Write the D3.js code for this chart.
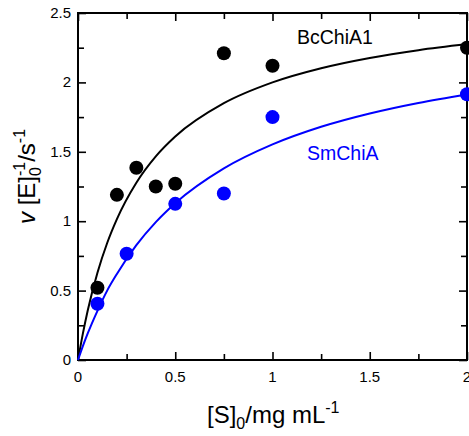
<!DOCTYPE html>
<html>
<head>
<meta charset="utf-8">
<script src="https://cdn.jsdelivr.net/npm/d3@7"></script>
<style>
body { margin: 0; background: #fff; }
svg { display: block; font-family: "Liberation Sans", Arial, sans-serif; }
</style>
</head>
<body>
<svg id="chart" width="469" height="436"></svg>
<script>
// measured points
var bcS = [0.1, 0.2, 0.3, 0.4, 0.5, 0.75, 1.0, 2.0];
var bcV = [0.52, 1.19, 1.385, 1.25, 1.27, 2.21, 2.12, 2.25];
var smS = [0.1, 0.25, 0.5, 0.75, 1.0, 2.0];
var smV = [0.405, 0.765, 1.125, 1.2, 1.75, 1.915];

// fitted curves
var fitS = [0, 0.025, 0.05, 0.1, 0.15, 0.2, 0.3, 0.4, 0.5, 0.75, 1.0, 1.25, 1.5, 1.75, 2.0];
var bcFit = [0, 0.19, 0.357, 0.629, 0.843, 1.015, 1.277, 1.467, 1.61, 1.85, 2.0, 2.102, 2.176, 2.232, 2.276];
var smFit = [0, 0.1, 0.191, 0.354, 0.5, 0.62, 0.827, 0.993, 1.129, 1.38, 1.553, 1.68, 1.776, 1.852, 1.913];

var xTicks = [0, 0.5, 1, 1.5, 2];
var xMinor = [0.25, 0.75, 1.25, 1.75];
var yTicks = [0, 0.5, 1, 1.5, 2, 2.5];
var yMinor = [0.25, 0.75, 1.25, 1.75, 2.25];

var svg = d3.select("#chart");
var L = 78, R = 467, T = 13, B = 360;

var x = d3.scaleLinear().domain([0, 2]).range([L, R]);
var y = d3.scaleLinear().domain([0, 2.5]).range([B, T]);

var tickFmt = function(d){ return d3.format("")(d); };

// axes, ticks inward on all four sides
var g = svg.append("g");
g.append("g").attr("transform", "translate(0," + B + ")")
	.call(d3.axisTop(x).tickValues(xTicks).tickSize(8).tickFormat(""));
g.append("g").attr("transform", "translate(0," + B + ")")
	.call(d3.axisTop(x).tickValues(xMinor).tickSize(6).tickFormat(""));
g.append("g").attr("transform", "translate(0," + T + ")")
	.call(d3.axisBottom(x).tickValues(xTicks).tickSize(8).tickFormat(""));
g.append("g").attr("transform", "translate(0," + T + ")")
	.call(d3.axisBottom(x).tickValues(xMinor).tickSize(6).tickFormat(""));
g.append("g").attr("transform", "translate(" + L + ",0)")
	.call(d3.axisRight(y).tickValues(yTicks).tickSize(8).tickFormat(""));
g.append("g").attr("transform", "translate(" + L + ",0)")
	.call(d3.axisRight(y).tickValues(yMinor).tickSize(6).tickFormat(""));
g.append("g").attr("transform", "translate(" + R + ",0)")
	.call(d3.axisLeft(y).tickValues(yTicks).tickSize(8).tickFormat(""));
g.append("g").attr("transform", "translate(" + R + ",0)")
	.call(d3.axisLeft(y).tickValues(yMinor).tickSize(6).tickFormat(""));
g.selectAll(".domain").remove();
g.selectAll("line").attr("stroke", "#000").attr("stroke-width", 1.6);

svg.append("rect").attr("x", L).attr("y", T).attr("width", R - L).attr("height", B - T)
	.attr("fill", "none").attr("stroke", "#000").attr("stroke-width", 2);

// tick labels
svg.selectAll(".xl").data(xTicks).enter().append("text")
	.attr("x", function(d){ return x(d); }).attr("y", B + 22)
	.attr("text-anchor", "middle").attr("font-size", 15).text(tickFmt);
svg.selectAll(".yl").data(yTicks).enter().append("text")
	.attr("x", L - 7).attr("y", function(d){ return y(d) + 5; })
	.attr("text-anchor", "end").attr("font-size", 15).text(tickFmt);

// curves
var line = d3.line().curve(d3.curveMonotoneX)
	.x(function(d){ return x(d[0]); }).y(function(d){ return y(d[1]); });
svg.append("path").datum(d3.zip(fitS, bcFit)).attr("d", line)
	.attr("fill", "none").attr("stroke", "#000").attr("stroke-width", 2);
svg.append("path").datum(d3.zip(fitS, smFit)).attr("d", line)
	.attr("fill", "none").attr("stroke", "#0000ff").attr("stroke-width", 2);

// points
svg.selectAll(".bc").data(d3.zip(bcS, bcV)).enter().append("circle")
	.attr("cx", function(d){ return x(d[0]); }).attr("cy", function(d){ return y(d[1]); })
	.attr("r", 7).attr("fill", "#000");
svg.selectAll(".sm").data(d3.zip(smS, smV)).enter().append("circle")
	.attr("cx", function(d){ return x(d[0]); }).attr("cy", function(d){ return y(d[1]); })
	.attr("r", 7).attr("fill", "#0000ff");

// series labels
svg.append("text").attr("x", 297).attr("y", 44).attr("font-size", 19.5).text("BcChiA1");
svg.append("text").attr("x", 307).attr("y", 160).attr("font-size", 19.5)
	.attr("fill", "#0000ff").text("SmChiA");

// axis titles
var xt = svg.append("text").attr("x", 207).attr("y", 423).attr("font-size", 24);
xt.append("tspan").text("[S]");
xt.append("tspan").attr("font-size", 16).attr("dy", 6).text("0");
xt.append("tspan").attr("dy", -6).text("/mg mL");
xt.append("tspan").attr("font-size", 16).attr("dy", -10).text("-1");

var yt = svg.append("text").attr("transform", "translate(35,224) rotate(-90)")
	.attr("font-size", 24);
yt.append("tspan").attr("font-style", "italic").text("v");
yt.append("tspan").text(" [E]");
yt.append("tspan").attr("font-size", 16).attr("dy", 6).text("0");
yt.append("tspan").attr("font-size", 16).attr("dy", -16).attr("dx", -9).text("-1");
yt.append("tspan").attr("dy", 10).text("/s");
yt.append("tspan").attr("font-size", 16).attr("dy", -10).text("-1");
</script>
</body>
</html>
